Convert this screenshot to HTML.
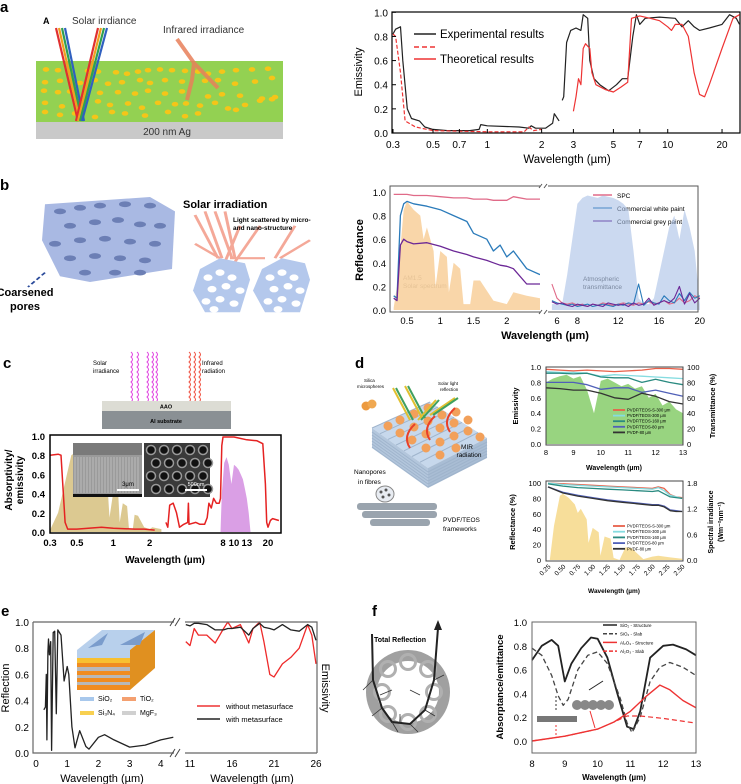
<!DOCTYPE html>
<html><head><meta charset="utf-8">
<style>
html,body{margin:0;padding:0;background:#fff;}
svg{display:block;font-family:"Liberation Sans",Arial,sans-serif;}
</style></head>
<body>
<svg id="fig" width="741" height="784" viewBox="0 0 741 784" xmlns="http://www.w3.org/2000/svg">
<g font-weight="bold" font-size="15">
<text x="0" y="12">a</text><text x="0" y="190">b</text><text x="3" y="368">c</text>
<text x="355" y="368">d</text><text x="1" y="616">e</text><text x="372" y="616">f</text>
</g>

<!-- Panel a illustration -->
<g>
<rect x="36" y="61" width="247" height="61" fill="#93d152"/>
<rect x="36" y="122" width="247" height="17" fill="#c9c9c9"/>
<text x="167" y="135" font-size="10" text-anchor="middle" fill="#333">200 nm Ag</text>
<text x="43" y="24" font-size="9" font-weight="bold">A</text>
<text x="72" y="24" font-size="10" fill="#333">Solar irrdiance</text>
<text x="163" y="33" font-size="10" fill="#333">Infrared irradiance</text>
<g fill="#f5c518" id="dots" transform="matrix(1 0 0 0.709 0 0)"></g>
<g stroke-width="2.2" fill="none">
<line x1="56" y1="28" x2="78" y2="121" stroke="#e03030"/><line x1="59" y1="28" x2="80" y2="121" stroke="#f0a020"/><line x1="62" y1="28" x2="82" y2="121" stroke="#30a050"/><line x1="65" y1="28" x2="84" y2="121" stroke="#3060c0"/>
<line x1="98" y1="28" x2="76" y2="121" stroke="#e03030"/><line x1="101" y1="28" x2="78" y2="121" stroke="#f0a020"/><line x1="104" y1="28" x2="80" y2="121" stroke="#30a050"/><line x1="107" y1="28" x2="82" y2="121" stroke="#3060c0"/>
</g>
<g stroke="#e8805a" stroke-width="4" fill="none" opacity="0.85">
<polyline points="177,39 194,63 192,80 187,100"/><polyline points="194,63 218,88"/>
</g>
</g>

<!-- Panel a chart -->
<g id="chartA">
<rect x="392" y="12" width="348" height="121" fill="none" stroke="#000" stroke-width="1.2"/>
<text transform="translate(362,72) rotate(-90)" font-size="11" text-anchor="middle">Emissivity</text>
<text x="567" y="163" font-size="11.5" text-anchor="middle">Wavelength (µm)</text>
<line x1="414" y1="34" x2="436" y2="34" stroke="#222" stroke-width="1.6"/>
<text x="440" y="38" font-size="11.5">Experimental results</text>
<line x1="414" y1="47" x2="436" y2="47" stroke="#e33" stroke-width="1.4" stroke-dasharray="5,3"/>
<line x1="414" y1="59" x2="436" y2="59" stroke="#e33" stroke-width="1.4"/>
<text x="440" y="63" font-size="11.5">Theoretical results</text>
</g>

<!-- Panel b illustration -->
<g>
<g transform="matrix(1 0 0 0.72 0 -4.6)">
<path d="M45,290 L150,280 L175,300 L172,380 L90,398 L60,390 L42,340 Z" fill="#a9b9e3"/>
<g fill="#6c7fb5" id="pores"></g>
<line x1="45" y1="385" x2="28" y2="405" stroke="#2a4a9a" stroke-width="2" stroke-dasharray="5,3"/>
<g stroke="#f4a898" stroke-width="3" fill="none">
<line x1="195" y1="305" x2="218" y2="365"/><line x1="205" y1="300" x2="222" y2="365"/><line x1="215" y1="300" x2="232" y2="365"/><line x1="225" y1="300" x2="235" y2="365"/>
<line x1="230" y1="365" x2="265" y2="365"/><line x1="225" y1="370" x2="240" y2="320"/><line x1="235" y1="370" x2="260" y2="320"/><line x1="275" y1="365" x2="295" y2="320"/><line x1="280" y1="365" x2="310" y2="340"/><line x1="220" y1="365" x2="195" y2="345"/>
</g>
<polygon points="200,380 220,365 245,372 250,395 240,440 205,440 193,410" fill="#b4c8ec"/>
<polygon points="262,380 282,365 305,372 310,395 300,440 265,440 253,410" fill="#b4c8ec"/>
<g fill="#fff" id="hexholes"></g>
</g>
<text x="25" y="296" font-size="11" font-weight="bold" text-anchor="middle">Coarsened</text>
<text x="25" y="310" font-size="11" font-weight="bold" text-anchor="middle">pores</text>
<text x="183" y="208" font-size="11" font-weight="bold">Solar irradiation</text>
<text x="233" y="222" font-size="6.5" font-weight="bold">Light scattered by micro-</text>
<text x="233" y="230" font-size="6.5" font-weight="bold">and nano-structure</text>
</g>

<!-- Panel b chart -->
<g id="chartB">
<text transform="translate(363,250) rotate(-90)" font-size="11" font-weight="bold" text-anchor="middle">Reflectance</text>
<text x="545" y="339" font-size="11" font-weight="bold" text-anchor="middle">Wavelength (µm)</text>
<text x="403" y="280" font-size="6.5" fill="#333">AM1.5</text>
<text x="403" y="288" font-size="6.5" fill="#333">Solar spectrum</text>
<text x="583" y="281" font-size="6.5" fill="#333">Atmospheric</text>
<text x="583" y="289" font-size="6.5" fill="#333">transmittance</text>
<line x1="593" y1="195" x2="612" y2="195" stroke="#e06a88" stroke-width="1.5"/><text x="617" y="198" font-size="6.5">SPC</text>
<line x1="593" y1="208" x2="612" y2="208" stroke="#2b7bba" stroke-width="1.5"/><text x="617" y="211" font-size="6.5">Commercial white paint</text>
<line x1="593" y1="221" x2="612" y2="221" stroke="#6b2796" stroke-width="1.5"/><text x="617" y="224" font-size="6.5">Commercial grey paint</text>
</g>

<!-- Panel c illustration -->
<g>
<text x="93" y="365" font-size="6">Solar</text><text x="93" y="373" font-size="6">irradiance</text>
<text x="202" y="365" font-size="6">Infrared</text><text x="202" y="373" font-size="6">radiation</text>
<g fill="none" stroke-width="1" id="waves"></g>
<rect x="102" y="401" width="129" height="10" fill="#dcdcd4"/>
<text x="166" y="408.5" font-size="5.5" font-weight="bold" text-anchor="middle">AAO</text>
<rect x="102" y="411" width="129" height="18" fill="#8a9094"/>
<text x="166" y="423" font-size="5.5" font-weight="bold" text-anchor="middle">Al substrate</text>
</g>

<!-- Panel c chart -->
<g id="chartC">
<text transform="translate(12,480) rotate(-90)" font-size="10" font-weight="bold" text-anchor="middle">Absorptivity/</text>
<text transform="translate(23,480) rotate(-90)" font-size="10" font-weight="bold" text-anchor="middle">emissivity</text>
<text x="165" y="563" font-size="10" font-weight="bold" text-anchor="middle">Wavelength (µm)</text>
</g>

<!-- Panel d illustration -->
<g>
<polygon points="372,428 430,402 487,438 428,468" fill="#c7d8ec"/>
<polygon points="372,428 428,468 428,488 372,448" fill="#b3c6dc"/>
<polygon points="428,468 487,438 487,458 428,488" fill="#a9bdd4"/>
<g stroke="#9fb4cc" stroke-width="1" id="fibers"></g>
<g fill="#f2a05a" id="spheres"></g>
<g stroke-width="2" fill="none">
<line x1="393" y1="388" x2="410" y2="420" stroke="#e0c030"/><line x1="396" y1="388" x2="413" y2="420" stroke="#40a060"/>
<line x1="405" y1="386" x2="422" y2="418" stroke="#e0c030"/><line x1="408" y1="386" x2="425" y2="418" stroke="#40a060"/>
<line x1="418" y1="420" x2="436" y2="400" stroke="#e0c030"/><line x1="421" y1="420" x2="439" y2="400" stroke="#40a060"/>
<line x1="430" y1="415" x2="455" y2="398" stroke="#e0c030"/><line x1="433" y1="415" x2="458" y2="398" stroke="#40a060"/>
</g>
<g stroke="#e8402a" stroke-width="2" fill="none">
<path d="M410,448 q-8,-12 5,-24"/><path d="M430,440 q-8,-12 5,-24"/><path d="M450,432 q-8,-12 5,-24"/>
</g>
<circle cx="366" cy="406" r="4.5" fill="#ec9a40"/><circle cx="372" cy="404" r="4.5" fill="#f0a850"/>
<text x="364" y="382" font-size="4.5">Silica</text><text x="357" y="388" font-size="4.5">microspheres</text>
<text x="438" y="385" font-size="4.5">Solar light</text><text x="440" y="391" font-size="4.5">reflection</text>
<text x="467" y="449" font-size="6.5" text-anchor="middle">MIR</text><text x="469" y="457" font-size="6.5" text-anchor="middle">radiation</text>
<text x="354" y="474" font-size="6.5">Nanopores</text><text x="358" y="484" font-size="6.5">in fibres</text>
<ellipse cx="385" cy="494" rx="9" ry="8" fill="#e8ecf2" stroke="#888"/>
<g fill="#555"><circle cx="381" cy="492" r="1.5"/><circle cx="386" cy="490" r="1.5"/><circle cx="389" cy="495" r="1.5"/><circle cx="383" cy="497" r="1.5"/></g>
<g fill="#9aa4ae"><rect x="357" y="503" width="80" height="7" rx="3"/><rect x="362" y="511" width="75" height="7" rx="3"/><rect x="370" y="519" width="60" height="7" rx="3"/></g>
<text x="443" y="522" font-size="6.5">PVDF/TEOS</text><text x="443" y="531" font-size="6.5">frameworks</text>
</g>

<g id="chartD1">
<text transform="translate(518,406) rotate(-90)" font-size="7.5" font-weight="bold" text-anchor="middle">Emissivity</text>
<text transform="translate(715,406) rotate(-90)" font-size="7.5" font-weight="bold" text-anchor="middle">Transmittance (%)</text>
<text x="614" y="470" font-size="7" font-weight="bold" text-anchor="middle">Wavelength (µm)</text>
</g>
<g id="chartD2">
<text transform="translate(515,522) rotate(-90)" font-size="7.5" font-weight="bold" text-anchor="middle">Reflectance (%)</text>
<text transform="translate(713,522) rotate(-90)" font-size="7" font-weight="bold" text-anchor="middle">Spectral irradiance</text>
<text transform="translate(723,522) rotate(-90)" font-size="7" font-weight="bold" text-anchor="middle">(Wm⁻²nm⁻¹)</text>
<text x="614" y="593" font-size="6.5" font-weight="bold" text-anchor="middle">Wavelength (µm)</text>
</g>

<!-- Panel e chart -->
<g id="chartE">
<text transform="translate(9,688) rotate(-90)" font-size="11" text-anchor="middle">Reflection</text>
<text transform="translate(322,688) rotate(90)" font-size="11" text-anchor="middle">Emissivity</text>
<text x="102" y="782" font-size="11" text-anchor="middle">Wavelength (µm)</text>
<text x="252" y="782" font-size="11" text-anchor="middle">Wavelength (µm)</text>
<g>
<polygon points="77,650 102,630 155,630 130,650" fill="#b8d0ec"/>
<polygon points="130,650 155,630 155,668 130,690" fill="#e09020"/>
<rect x="77" y="650" width="53" height="8" fill="#b8d0ec"/>
<rect x="77" y="658" width="53" height="5" fill="#f8c030"/><rect x="77" y="663" width="53" height="4" fill="#f08c20"/>
<rect x="77" y="667" width="53" height="4" fill="#b8b8b8"/><rect x="77" y="671" width="53" height="4" fill="#f08c20"/>
<rect x="77" y="675" width="53" height="3" fill="#b8b8b8"/><rect x="77" y="678" width="53" height="4" fill="#f08c20"/>
<rect x="77" y="682" width="53" height="3" fill="#b8b8b8"/><rect x="77" y="685" width="53" height="5" fill="#f08c20"/>
<polygon points="88,648 108,633 102,645" fill="#7a9ccc"/><polygon points="120,645 145,632 140,645" fill="#7a9ccc"/>
</g>
<rect x="80" y="697" width="14" height="4" fill="#a8c8ec"/><text x="98" y="701" font-size="7">SiO₂</text>
<rect x="122" y="697" width="14" height="4" fill="#f4a070"/><text x="140" y="701" font-size="7">TiO₂</text>
<rect x="80" y="711" width="14" height="4" fill="#f8d050"/><text x="98" y="715" font-size="7">Si₃N₄</text>
<rect x="122" y="711" width="14" height="4" fill="#d0d0d0"/><text x="140" y="715" font-size="7">MgF₃</text>
<line x1="197" y1="706" x2="220" y2="706" stroke="#e33" stroke-width="1.5"/><text x="226" y="709" font-size="7.5">without metasurface</text>
<line x1="197" y1="719" x2="220" y2="719" stroke="#222" stroke-width="1.5"/><text x="226" y="722" font-size="7.5">with metasurface</text>
</g>

<!-- Panel f illustration -->
<g>
<ellipse cx="408" cy="692" rx="42" ry="42" fill="#a0a0a0"/>
<ellipse cx="408" cy="692" rx="31" ry="31" fill="#fff"/>
<g fill="none" stroke="#b0b0b0" stroke-width="3" id="ringcircles"></g>
<polyline points="372,634 373,680 382,708 392,722 410,724 425,710 434,680 438,628" fill="none" stroke="#222" stroke-width="2"/>
<polygon points="434,630 438,620 442,630" fill="#222"/>
<text x="374" y="642" font-size="7" font-weight="bold">Total Reflection</text>
<g stroke="#333" stroke-width="0.8" id="scatter"></g>
</g>

<g id="chartF">
<text transform="translate(503,687) rotate(-90)" font-size="9.5" font-weight="bold" text-anchor="middle">Absorptance/emittance</text>
<text x="614" y="780" font-size="8" font-weight="bold" text-anchor="middle">Wavelength (µm)</text>
<rect x="537" y="716" width="40" height="6" fill="#777"/>
<g fill="#888"><circle cx="577" cy="705" r="5"/><circle cx="585" cy="705" r="5"/><circle cx="593" cy="705" r="5"/><circle cx="601" cy="705" r="5"/><circle cx="609" cy="705" r="5"/></g>
<line x1="556" y1="710" x2="556" y2="694" stroke="#333" stroke-dasharray="2,2"/>
<line x1="589" y1="690" x2="603" y2="681" stroke="#222"/>
<line x1="556" y1="725" x2="556" y2="737" stroke="#e33" stroke-dasharray="2,2"/>
<line x1="590" y1="711" x2="595" y2="728" stroke="#e33"/>
</g>
</svg>

<script>
// ---------- data ----------
const aBlack1X=[0.3,0.31,0.33,0.34,0.36,0.38,0.42,0.45,0.5,0.6,0.8,0.9,0.92,1.0,1.5,1.7,1.75,1.85,2.1,2.3,2.35,2.5];
const aBlack1Y=[0.82,0.86,0.88,0.6,0.2,0.12,0.1,0.05,0.03,0.02,0.02,0.03,0.07,0.06,0.05,0.04,0.06,0.04,0.04,0.08,0.16,0.1];
const aBlack2X=[2.6,2.65,2.75,2.9,3.1,3.3,3.4,3.6,3.7,3.9,4.2,4.7,5.2,5.6,6.0,6.4,6.7,7,7.5,9,11,12,13,14,15,17,20,22,24,25];
const aBlack2Y=[0.27,0.3,0.75,0.85,0.87,0.85,0.98,0.95,0.6,0.45,0.4,0.35,0.4,0.45,0.45,0.8,0.98,0.9,0.95,0.96,0.95,0.88,0.93,0.88,0.85,0.87,0.9,0.98,0.95,0.9];
const aRed1X=[0.3,0.31,0.33,0.35,0.4,0.5,1,1.6,1.7,1.8,2.0];
const aRed1Y=[0.82,0.8,0.5,0.1,0.05,0.02,0.01,0.01,0.05,0.02,0.03];
const aRed2X=[3.0,3.1,3.2,3.3,3.4,3.5,3.7,3.8,4.0,4.5,5.0,5.5,6.0,6.3,7,8,9,10,10.5,11,12,13,14,15,16,17,20,23,25];
const aRed2Y=[0.18,0.3,0.45,0.4,0.7,0.74,0.7,0.5,0.4,0.36,0.34,0.38,0.42,0.95,0.97,0.95,0.93,0.88,0.85,0.9,0.9,0.8,0.5,0.32,0.3,0.4,0.7,0.95,0.98];
const aXTicks=[0.3,0.5,0.7,1,2,3,5,7,10,20];
const aYTicks=[0,0.2,0.4,0.6,0.8,1.0];

const bLX=[0.3,0.35,0.4,0.45,0.5,0.6,0.8,1.0,1.2,1.4,1.5,1.7,1.8,1.9,2.0,2.1,2.3,2.5];
const bSpcL=[0.98,0.98,0.98,0.98,0.98,0.97,0.97,0.96,0.95,0.95,0.94,0.94,0.93,0.93,0.93,0.96,0.94,0.94];
const bWhiteL=[0.12,0.1,0.8,0.9,0.92,0.9,0.88,0.85,0.8,0.75,0.65,0.6,0.5,0.55,0.45,0.5,0.35,0.3];
const bGreyL=[0.1,0.08,0.55,0.6,0.58,0.56,0.57,0.54,0.5,0.47,0.45,0.42,0.4,0.38,0.37,0.35,0.22,0.22];
const bRX=[5.5,6,6.5,7,7.5,8,8.5,9,9.5,10,10.5,11,11.5,12,12.5,13,13.5,14,14.5,15,15.5,16,16.5,17,17.5,18,18.5,19,19.5,20];
const bSpcR=[0.22,0.1,0.06,0.05,0.06,0.04,0.05,0.03,0.05,0.04,0.06,0.05,0.04,0.05,0.06,0.05,0.04,0.06,0.05,0.07,0.05,0.06,0.08,0.05,0.06,0.1,0.06,0.08,0.12,0.1];
const bWhiteR=[0.08,0.06,0.05,0.04,0.05,0.03,0.04,0.05,0.03,0.04,0.05,0.04,0.03,0.05,0.04,0.06,0.05,0.22,0.04,0.08,0.06,0.05,0.12,0.08,0.06,0.14,0.08,0.15,0.1,0.12];
const bGreyR=[0.07,0.05,0.06,0.04,0.03,0.05,0.04,0.03,0.05,0.04,0.03,0.06,0.05,0.04,0.05,0.03,0.06,0.04,0.05,0.1,0.04,0.06,0.08,0.06,0.1,0.2,0.05,0.14,0.06,0.1];
const bAtmR=[0.05,0.05,0.05,0.3,0.6,0.9,0.95,0.97,0.96,0.95,0.97,0.96,0.95,0.93,0.9,0.85,0.5,0.1,0.05,0.05,0.1,0.3,0.5,0.7,0.8,0.6,0.85,0.7,0.5,0.05];
const solarX=[0.3,0.35,0.45,0.5,0.6,0.7,0.75,0.8,0.9,0.93,1.0,1.1,1.13,1.2,1.3,1.35,1.45,1.5,1.6,1.8,2.0,2.1,2.3,2.5];
const solarY=[0.02,0.2,0.85,0.92,0.85,0.8,0.6,0.7,0.5,0.2,0.5,0.45,0.15,0.4,0.35,0.05,0.05,0.25,0.25,0.08,0.05,0.15,0.12,0.1];
const bXTicksL=[0.5,1,1.5,2];
const bXTicksR=[6,8,12,16,20];
const bYTicks=[0,0.2,0.4,0.6,0.8,1.0];

const cLX=[0.3,0.35,0.37,0.4,0.42,0.5,0.8,1,1.5,1.8,2.2];
const cLY=[0.8,0.81,0.8,0.1,0.03,0.03,0.05,0.04,0.03,0.03,0.02];
const cRX=[2.5,2.6,2.7,2.9,3.1,3.3,3.6,3.9,3.95,4.0,4.6,5.0,5.5,5.8,6.0,6.3,6.6,7.0,7.4,7.6,7.8,8,10,13,16,18,19,19.5,20,21,22,25];
const cRY=[0.1,0.05,0.28,0.3,0.2,0.05,0.08,0.1,0.3,0.08,0.1,0.08,0.08,0.15,0.3,0.25,0.35,0.3,0.3,0.35,0.9,0.99,0.99,0.96,0.95,0.92,0.5,0.1,0.05,0.12,0.14,0.12];
const cSolarY=[0.02,0.2,0.8,0.84,0.75,0.7,0.5,0.62,0.45,0.15,0.42,0.38,0.1,0.3,0.27,0.03,0.03,0.18,0.17,0.05,0.03,0.05,0.04,0.03];
const cPurpX=[7.6,7.8,8.2,8.6,9,9.5,10,10.5,11,11.5,12,12.5,13,13.5,14];
const cPurpY=[0,0.4,0.72,0.78,0.7,0.5,0.7,0.68,0.65,0.6,0.55,0.45,0.35,0.2,0];
const cXTicksL=[0.3,0.5,1,2];
const cXTicksR=[8,10,13,20];
const cYTicks=[0,0.2,0.4,0.6,0.8,1.0];

const d1X=[8,8.5,9,9.5,10,10.5,11,11.5,12,12.5,13];
const d1Red=[0.97,0.96,0.95,0.96,0.95,0.94,0.95,0.96,0.98,0.98,0.97];
const d1Cyan=[0.94,0.93,0.93,0.92,0.88,0.90,0.89,0.88,0.87,0.86,0.85];
const d1Teal=[0.92,0.92,0.91,0.92,0.87,0.86,0.86,0.80,0.84,0.80,0.77];
const d1Blue=[0.80,0.80,0.80,0.77,0.71,0.73,0.73,0.67,0.70,0.66,0.62];
const d1Black=[0.73,0.72,0.70,0.70,0.66,0.60,0.58,0.66,0.62,0.55,0.52];
const d1TX=[8,8.25,8.5,8.75,9,9.25,9.5,9.75,10,10.25,10.5,10.75,11,11.25,11.5,11.75,12,12.25,12.5,12.75,13];
const d1Trans=[80,85,88,90,85,88,70,40,82,85,80,75,78,72,75,60,65,50,55,45,40];
const d2X=[0.25,0.5,0.75,1.0,1.25,1.5,1.75,2.0,2.1,2.2,2.3,2.4,2.5];
const d2Red=[100,99,98,97,96,95,94,93,95,93,85,82,81];
const d2Cyan=[100,98,97,96,95,94,93,92,94,90,84,82,80];
const d2Teal=[99,96,94,93,92,91,90,89,90,86,82,81,80];
const d2Blue=[95,88,84,81,78,76,74,72,72,70,65,64,63];
const d2Black=[95,87,83,80,77,75,73,71,71,69,64,63,63];
const d2SX=[0.28,0.35,0.45,0.5,0.6,0.7,0.75,0.8,0.9,0.93,1.0,1.1,1.13,1.2,1.3,1.35,1.45,1.55,1.65,1.75,1.85,2.0,2.1,2.3,2.5];
const d2SV=[0,0.8,1.5,1.55,1.45,1.3,1.1,1.2,0.95,0.4,0.75,0.65,0.1,0.55,0.5,0.05,0,0.3,0.28,0.15,0.02,0.08,0.1,0.06,0.03];
const dLegend=["PVDF/TEOS-S-300 µm","PVDF/TEOS-300 µm","PVDF/TEOS-160 µm","PVDF/TEOS-80 µm","PVDF-80 µm"];
const d1XTicks=[8,9,10,11,12,13];
const d1YTicks=[0,0.2,0.4,0.6,0.8,1.0];
const d1RTicks=[0,20,40,60,80,100];
const d2XTicks=["0.25","0.50","0.75","1.00","1.25","1.50","1.75","2.00","2.25","2.50"];
const d2YTicks=[0,20,40,60,80,100];
const d2RTicks=[0,0.6,1.2,1.8];

const eLX=[0.25,0.3,0.33,0.35,0.38,0.4,0.43,0.47,0.5,0.55,0.6,0.65,0.7,0.8,0.9,1.0,1.05,1.15,1.25,1.4,1.6,1.7,2.0,2.2,2.5,3.0,3.5,4.0,4.4];
const eLY=[0.33,0.35,0.6,0.1,0.77,0.87,0.75,0.85,0.02,0.92,0.93,0.3,0.94,0.9,0.55,0.66,0.6,0.2,0.04,0.17,0.05,0.03,0.12,0.14,0.1,0.045,0.06,0.1,0.12];
const eRX=[10.5,11,11.5,12,13,14,15,15.5,16,17,18,18.5,19.3,19.8,20.5,21,22,23,24,25,25.5,26];
const eRRed=[0.85,0.82,0.95,0.9,0.9,0.84,0.95,1.0,0.95,0.98,0.84,0.95,1.0,0.85,0.6,0.58,0.68,0.73,0.8,0.98,0.9,0.68];
const eRBlack=[0.98,0.97,0.99,0.99,0.98,0.94,0.94,0.95,0.95,0.96,0.9,0.95,0.99,0.96,0.95,0.94,0.98,0.94,0.93,0.98,0.96,0.86];
const eXTicksL=[0,1,2,3,4];
const eXTicksR=[11,16,21,26];
const eYTicks=[0,0.2,0.4,0.6,0.8,1.0];

const fX1=[8,8.3,8.6,8.8,9.0,9.2,9.5,9.8,10.0,10.3,10.6,10.9,11.1,11.3,11.6,12.0,12.3,12.7,13];
const fSiStruct=[0.68,0.8,0.85,0.8,0.5,0.65,0.78,0.87,0.86,0.7,0.4,0.12,0.1,0.25,0.7,0.8,0.81,0.77,0.72];
const fX2=[8,8.3,8.6,8.8,8.95,9.1,9.4,9.7,10.0,10.3,10.7,10.9,11.05,11.3,11.6,11.9,12.2,12.6,13];
const fSiSlab=[0.78,0.72,0.55,0.38,0.3,0.35,0.6,0.72,0.75,0.65,0.35,0.15,0.07,0.2,0.5,0.62,0.66,0.62,0.55];
const fX3=[8,9,10,10.5,11,11.5,11.9,12.2,12.6,13];
const fAlStruct=[0.0,0.04,0.1,0.16,0.25,0.38,0.47,0.43,0.34,0.28];
const fX4=[8,9,10,10.5,10.9,11.3,12,13];
const fAlSlab=[0.0,0.04,0.1,0.16,0.21,0.21,0.19,0.15];
const fLegend=["SiO₂ - Structure","SiO₂ - Slab","Al₂O₃ - Structure","Al₂O₃ - Slab"];
const fXTicks=[8,9,10,11,12,13];
const fYTicks=[0,0.2,0.4,0.6,0.8,1.0];

// ---------- helpers ----------
const NS="http://www.w3.org/2000/svg";
function mk(parent,tag,attrs,name){
  const el=document.createElementNS(NS,tag);
  for(const k in attrs) el.setAttribute(k,attrs[k]);
  
  
  parent.appendChild(el);
  return el;
}
function pathD(xs,ys,sx,sy){return xs.map((x,i)=>(i?'L':'M')+sx(x).toFixed(1)+','+sy(ys[i]).toFixed(1)).join('');}
function line(g,xs,ys,sx,sy,color,w,dash,name){
  const a={d:pathD(xs,ys,sx,sy),fill:'none',stroke:color,'stroke-width':w,'stroke-linejoin':'round'};
  if(dash)a['stroke-dasharray']=dash;
  return mk(g,'path',a,name);
}
function area(g,xs,ys,sx,sy,base,color,op,name){
  const d=pathD(xs,ys,sx,sy)+'L'+sx(xs[xs.length-1]).toFixed(1)+','+base+'L'+sx(xs[0]).toFixed(1)+','+base+'Z';
  return mk(g,'path',{d:d,fill:color,opacity:op},name);
}
function txt(g,x,y,s,size,anchor,name,extra){
  const a={x:x,y:y,'font-size':size,'text-anchor':anchor||'middle'};
  if(extra)for(const k in extra)a[k]=extra[k];
  const t=mk(g,'text',a,name);t.textContent=s;return t;
}
const L10=Math.log10;

// ---------- panel a ----------
const gA=document.getElementById('chartA');
const xa=v=>393+180.4*L10(v/0.3), ya=v=>133-120.7*v;
line(gA,aBlack1X,aBlack1Y,xa,ya,'#222',1.2,null,'experimental-line-uv');
line(gA,aBlack2X,aBlack2Y,xa,ya,'#222',1.2,null,'experimental-line-ir');
line(gA,aRed1X,aRed1Y,xa,ya,'#e33',1.2,'4,2','theoretical-line-uv');
line(gA,aRed2X,aRed2Y,xa,ya,'#e33',1.2,null,'theoretical-line-ir');
aXTicks.forEach(v=>{mk(gA,'line',{x1:xa(v),x2:xa(v),y1:133,y2:129,stroke:'#000'},'x-tick');txt(gA,xa(v),148,String(v),10,'middle','x-tick-label');});
aYTicks.forEach(v=>{mk(gA,'line',{x1:392,x2:396,y1:ya(v),y2:ya(v),stroke:'#000'},'y-tick');txt(gA,388,ya(v)+4,v.toFixed(1),10,'end','y-tick-label');});

(function(){const g=document.getElementById('dots');
const pts=[[46,98],[58,99],[70,101],[88,100],[98,101],[116,102],[127,104],[138,101],[148,99],[160,98],[172,99],[185,100],[198,101],[208,104],[222,101],[236,99],[252,98],[268,97],
[45,116],[60,114],[80,117],[95,113],[108,118],[122,116],[140,113],[150,117],[165,113],[182,115],[205,114],[218,113],[235,118],[255,115],[272,110],
[44,128],[58,130],[70,129],[85,133],[100,131],[118,130],[135,132],[148,128],[165,132],[182,129],[208,136],[222,133],[240,135],[262,139],[275,137],
[45,145],[62,150],[78,147],[98,143],[110,148],[128,146],[142,152],[158,145],[175,147],[186,146],[200,149],[215,145],[228,153],[245,148],[260,142],[272,140],
[45,158],[60,162],[75,160],[95,165],[112,158],[125,160],[145,163],[168,158],[185,164],[198,160],[236,155]];
pts.forEach(p=>{mk(g,'circle',{cx:p[0],cy:p[1],r:3.3},'nanoparticle');});})();

// ---------- panel b ----------
const gB=document.getElementById('chartB');
const xb=v=>v<=3?407+66.5*(v-0.5):557+10.2*(v-6), yb=v=>310-118*v;
area(gB,solarX,solarY,xb,yb,310,'#f8d2a0',0.9,'am15-solar-spectrum');
area(gB,bRX,bAtmR,xb,yb,310,'#a8c0e6',0.6,'atmospheric-transmittance');
line(gB,bLX,bSpcL,xb,yb,'#e06a88',1.3,null,'spc-line-left');
line(gB,bLX,bWhiteL,xb,yb,'#2b7bba',1.3,null,'white-paint-line-left');
line(gB,bLX,bGreyL,xb,yb,'#6b2796',1.3,null,'grey-paint-line-left');
line(gB,bRX,bSpcR,xb,yb,'#e06a88',1.1,null,'spc-line-right');
line(gB,bRX,bWhiteR,xb,yb,'#2b7bba',1.1,null,'white-paint-line-right');
line(gB,bRX,bGreyR,xb,yb,'#6b2796',1.1,null,'grey-paint-line-right');
mk(gB,'rect',{x:390,y:186,width:308,height:126,fill:'none',stroke:'#555','stroke-width':1},'plot-frame');
mk(gB,'rect',{x:540,y:182,width:8,height:134,fill:'#fff'},'axis-break');
mk(gB,'path',{d:'M539,188 l3,-4 M544,188 l3,-4 M539,314 l3,-4 M544,314 l3,-4',stroke:'#555',fill:'none'},'break-marks');
bXTicksL.forEach(v=>txt(gB,xb(v),324,String(v),9.5,'middle','x-tick-label'));
bXTicksR.forEach(v=>txt(gB,xb(v),324,String(v),9.5,'middle','x-tick-label'));
bYTicks.forEach(v=>txt(gB,386,yb(v)+4,v.toFixed(1),9.5,'end','y-tick-label'));

(function(){const g=document.getElementById('pores');
[[60,300],[80,295],[100,292],[125,290],[150,292],[70,320],[95,315],[118,312],[140,318],[160,320],[55,345],[80,340],[105,338],[130,342],[155,345],[70,365],[95,362],[120,365],[145,368],[85,385],[115,385],[140,385]].forEach(p=>mk(g,'ellipse',{cx:p[0],cy:p[1],rx:6,ry:4},'pore'));
const h=document.getElementById('hexholes');
[[208,392],[220,385],[232,392],[212,408],[226,404],[240,410],[206,425],[220,422],[234,428],[214,436],[270,392],[282,385],[294,392],[274,408],[288,404],[300,410],[268,425],[282,422],[296,428],[278,436]].forEach(p=>mk(h,'circle',{cx:p[0],cy:p[1],r:4.5},'hex-hole'));
})();

// ---------- panel c ----------
const gC=document.getElementById('chartC');
const xcL=v=>50+121*L10(v/0.3), xcR=v=>223+113*L10(v/8), yc=v=>532-96*v;
area(gC,solarX,cSolarY,xcL,yc,532,'#d6c07e',0.85,'solar-irradiance-fill');
area(gC,cPurpX,cPurpY,xcR,yc,532,'#d48ee0',0.85,'infrared-window-fill');
mk(gC,'rect',{x:73,y:443,width:69,height:54,fill:'#9a9a9a'},'sem-cross-section');
mk(gC,'rect',{x:73,y:443,width:69,height:12,fill:'#7a7a7a'},'sem-top');
for(let i=0;i<22;i++){mk(gC,'line',{x1:75+i*3,x2:75+i*3,y1:457,y2:493,stroke:'#d8d8d8','stroke-width':0.8,opacity:0.7},'sem-pore-channel');}
mk(gC,'rect',{x:73,y:494,width:69,height:3,fill:'#111'},'sem-base');
mk(gC,'rect',{x:144,y:443,width:66,height:54,fill:'#3a3a3a'},'sem-top-view');
for(let r=0;r<4;r++)for(let c=0;c<5;c++){mk(gC,'circle',{cx:151+c*13+(r%2)*5,cy:450+r*13,r:4.5,fill:'#111',stroke:'#999','stroke-width':1.5},'sem-pore');}
mk(gC,'rect',{x:117,y:489,width:22,height:2,fill:'#fff'},'scale-bar');
txt(gC,128,486,'3μm',6,'middle','scale-label',{fill:'#000'});
mk(gC,'rect',{x:185,y:489,width:22,height:2,fill:'#fff'},'scale-bar');
txt(gC,196,486,'500nm',5.5,'middle','scale-label',{fill:'#fff'});
line(gC,cLX,cLY,xcL,yc,'#e52222',1.5,null,'emissivity-line-left');
line(gC,cRX,cRY,xcR,yc,'#e52222',1.5,null,'emissivity-line-right');
mk(gC,'rect',{x:50,y:435,width:231,height:98,fill:'none',stroke:'#000','stroke-width':1.5},'plot-frame');
cXTicksL.forEach(v=>txt(gC,xcL(v),546,String(v),9.5,'middle','x-tick-label',{'font-weight':'bold'}));
cXTicksR.forEach(v=>txt(gC,xcR(v),546,String(v),9.5,'middle','x-tick-label',{'font-weight':'bold'}));
cYTicks.forEach(v=>txt(gC,45,yc(v)+4,v.toFixed(1),9.5,'end','y-tick-label',{'font-weight':'bold'}));

(function(){const g=document.getElementById('waves');
[[131,'#e040e0'],[137,'#e040e0'],[147,'#e040e0'],[152,'#e040e0'],[156,'#e040e0'],[189,'#f05040'],[194,'#f05040'],[199,'#f05040']].forEach(w=>{
 let d='M'+w[0]+',352';for(let y=352;y<398;y+=5){d+=' q3,2.5 0,5';}
 mk(g,'path',{d:d,stroke:w[1]},'wave');});})();

// ---------- panel d ----------
const gD1=document.getElementById('chartD1');
const xd=v=>546+27.4*(v-8), yd1=v=>444-77*v, yd1p=p=>444-0.77*p;
area(gD1,d1TX,d1Trans,xd,yd1p,444,'#86cc6a',0.85,'transmittance-fill');
const dCols=['#e8604a','#86dce0','#2a8a80','#5060b8','#333'];
[d1Red,d1Cyan,d1Teal,d1Blue,d1Black].forEach((s,i)=>line(gD1,d1X,s,xd,yd1,dCols[i],1.3,null,'emissivity-line'));
mk(gD1,'rect',{x:546,y:367,width:137,height:78,fill:'none',stroke:'#444'},'plot-frame');
d1XTicks.forEach(v=>txt(gD1,xd(v),455,String(v),7.5,'middle','x-tick-label'));
d1YTicks.forEach(v=>txt(gD1,541,yd1(v)+3,v.toFixed(1),7.5,'end','y-tick-label'));
d1RTicks.forEach(v=>txt(gD1,687,yd1p(v)+3,String(v),7.5,'start','y2-tick-label'));
dLegend.forEach((s,i)=>{mk(gD1,'line',{x1:613,x2:625,y1:410+i*5.6,y2:410+i*5.6,stroke:dCols[i],'stroke-width':1.8},'legend-swatch');txt(gD1,627,411.5+i*5.6,s,4.2,'start','legend-entry');});

const gD2=document.getElementById('chartD2');
const xd2=v=>548+59.6*(v-0.25), yd2=p=>560-0.77*p, yd2s=v=>560-v/1.8*77;
area(gD2,d2SX,d2SV,xd2,yd2s,560,'#f6d888',0.85,'spectral-irradiance-fill');
[d2Red,d2Cyan,d2Teal,d2Blue,d2Black].forEach((s,i)=>line(gD2,d2X,s,xd2,yd2,dCols[i],1.3,null,'reflectance-line'));
mk(gD2,'rect',{x:546,y:481,width:137,height:80,fill:'none',stroke:'#444'},'plot-frame');
d2XTicks.forEach(v=>{const x=xd2(parseFloat(v));txt(gD2,x+3,567,v,6.5,'end','x-tick-label',{transform:'rotate(-45 '+(x+3)+' 567)'});});
d2YTicks.forEach(v=>txt(gD2,541,yd2(v)+3,String(v),7.5,'end','y-tick-label'));
d2RTicks.forEach(v=>txt(gD2,687,yd2s(v)+3,v.toFixed(1),7.5,'start','y2-tick-label'));
dLegend.forEach((s,i)=>{mk(gD2,'line',{x1:613,x2:625,y1:526+i*5.7,y2:526+i*5.7,stroke:dCols[i],'stroke-width':1.8},'legend-swatch');txt(gD2,627,527.5+i*5.7,s,4.2,'start','legend-entry');});

(function(){const g=document.getElementById('fibers');
for(let i=0;i<7;i++){mk(g,'line',{x1:372+i*8,y1:428+i*5.7,x2:430+i*8,y2:402+i*5.1},'fiber');}
for(let i=0;i<6;i++){mk(g,'line',{x1:372,y1:432+i*3,x2:428,y2:472+i*3},'fiber');mk(g,'line',{x1:428,y1:472+i*3,x2:487,y2:442+i*3},'fiber');}
const s=document.getElementById('spheres');
[[388,426],[400,420],[414,414],[428,408],[400,433],[414,427],[428,421],[442,415],[456,412],[412,440],[426,434],[440,428],[454,423],[468,420],[426,448],[440,442],[454,436],[468,431],[480,437],[440,455],[456,448]].forEach(p=>mk(s,'circle',{cx:p[0],cy:p[1],r:4.5},'silica-sphere'));})();

// ---------- panel e ----------
const gE=document.getElementById('chartE');
const xeL=v=>36+31.2*v, xeR=v=>190+8.4*(v-11), ye=v=>753-131*v;
line(gE,eLX,eLY,xeL,ye,'#222',1.3,null,'reflection-line');
line(gE,eRX,eRRed,xeR,ye,'#ee2a2a',1.3,null,'emissivity-without-metasurface');
line(gE,eRX,eRBlack,xeR,ye,'#222',1.3,null,'emissivity-with-metasurface');
mk(gE,'path',{d:'M33,622 H174 M33,622 V753 H174 M185,622 H317 V753 M185,753 H317',fill:'none',stroke:'#666','stroke-width':1.2},'plot-frame');
mk(gE,'path',{d:'M170,626 l5,-8 M175,626 l5,-8 M170,757 l5,-8 M175,757 l5,-8',stroke:'#444',fill:'none'},'break-marks');
eXTicksL.forEach(v=>txt(gE,xeL(v),767,String(v),10,'middle','x-tick-label'));
eXTicksR.forEach(v=>txt(gE,xeR(v),767,String(v),10,'middle','x-tick-label'));
eYTicks.forEach(v=>txt(gE,29,ye(v)+4,v.toFixed(1),10,'end','y-tick-label'));

// ---------- panel f ----------
(function(){const g=document.getElementById('ringcircles');
[[388,669],[408,662],[428,669],[382,692],[434,692],[388,714],[408,722],[428,714]].forEach(p=>mk(g,'circle',{cx:p[0],cy:p[1],r:7.5},'ring-fiber'));
const s=document.getElementById('scatter');
[[373,680,363,690],[382,708,372,716],[392,722,398,732],[410,724,418,732],[425,710,435,716],[434,680,444,675],[380,695,392,690],[420,695,410,690],[400,724,400,714]].forEach(p=>mk(s,'line',{x1:p[0],y1:p[1],x2:p[2],y2:p[3]},'scatter-arrow'));})();

const gF=document.getElementById('chartF');
const xf=v=>532+32.8*(v-8), yf=v=>741-119*v;
line(gF,fX1,fSiStruct,xf,yf,'#222',1.8,null,'sio2-structure-line');
line(gF,fX2,fSiSlab,xf,yf,'#444',1.3,'5,3','sio2-slab-line');
line(gF,fX3,fAlStruct,xf,yf,'#ee3333',1.4,null,'al2o3-structure-line');
line(gF,fX4,fAlSlab,xf,yf,'#ee3333',1.2,'5,3','al2o3-slab-line');
mk(gF,'rect',{x:532,y:622,width:164,height:131,fill:'none',stroke:'#666','stroke-width':1},'plot-frame');
fXTicks.forEach(v=>txt(gF,xf(v),767,String(v),9.5,'middle','x-tick-label'));
fYTicks.forEach(v=>txt(gF,527,yf(v)+4,v.toFixed(1),9.5,'end','y-tick-label'));
const fCols=['#222','#444','#ee3333','#ee3333'], fDash=[null,'4,2',null,'4,2'];
fLegend.forEach((s,i)=>{const a={x1:603,x2:617,y1:625+i*8.7,y2:625+i*8.7,stroke:fCols[i],'stroke-width':1.5};if(fDash[i])a['stroke-dasharray']=fDash[i];mk(gF,'line',a,'legend-swatch');txt(gF,620,627+i*8.7,s,4.5,'start','legend-entry');});
</script>
</body></html>
